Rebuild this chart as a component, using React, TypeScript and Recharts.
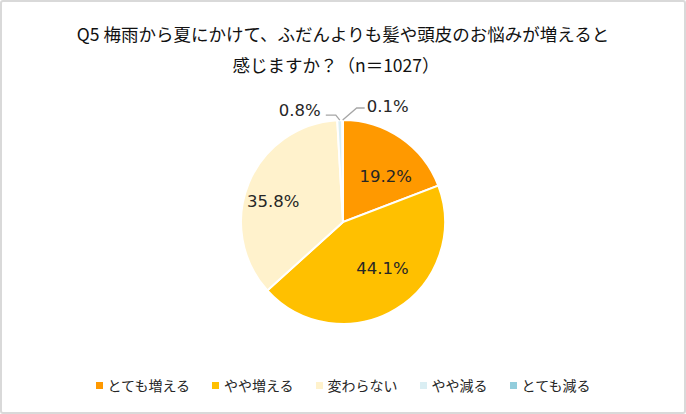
import React from "react";
import { PieChart, Pie, Cell } from "recharts";

const categories = ["とても増える", "やや増える", "変わらない", "やや減る", "とても減る"];
const values = [19.2, 44.1, 35.8, 0.8, 0.1];
const colors = ["#FF9900", "#FFC000", "#FFF2CC", "#DAEEF3", "#92CDDC"];
const titleLines = [
  "Q5 梅雨から夏にかけて、ふだんよりも髪や頭皮のお悩みが増えると",
  "感じますか？（n＝1027）",
];

const data = categories.map((name, i) => ({ name, value: values[i] }));

const FONT = "'Noto Sans CJK JP', 'Noto Sans', sans-serif";
const NUMFONT = "'DejaVu Sans', 'Noto Sans CJK JP', sans-serif";
const RAD = Math.PI / 180;

const renderLabel = (props: any) => {
  const { cx, cy, midAngle, outerRadius, index, value } = props;
  const text = `${value.toFixed(1)}%`;
  if (index < 3) {
    const x = cx + outerRadius * 0.74 * Math.cos(-midAngle * RAD);
    const y = cy + outerRadius * 0.54 * Math.sin(-midAngle * RAD);
    return (
      <text x={x} y={y} textAnchor="middle" dominantBaseline="central" fill="#262626" fontSize={16.5} fontFamily={NUMFONT}>
        {text}
      </text>
    );
  }
  const ex = cx + outerRadius * Math.cos(-midAngle * RAD);
  const ey = cy + outerRadius * Math.sin(-midAngle * RAD);
  if (index === 3) {
    return (
      <g>
        <polyline points={`${ex},${ey} ${ex - 4},${ey - 5} ${ex - 14},${ey - 5}`} fill="none" stroke="#A6A6A6" strokeWidth={1.3} />
        <text x={ex - 19} y={ey - 10} textAnchor="end" dominantBaseline="central" fill="#262626" fontSize={16.5} fontFamily={NUMFONT}>
          {text}
        </text>
      </g>
    );
  }
  return (
    <g>
      <polyline points={`${ex},${ey} ${ex + 14},${ey - 12} ${ex + 22},${ey - 12}`} fill="none" stroke="#A6A6A6" strokeWidth={1.3} />
      <text x={ex + 24} y={ey - 14} textAnchor="start" dominantBaseline="central" fill="#262626" fontSize={16.5} fontFamily={NUMFONT}>
        {text}
      </text>
    </g>
  );
};

export default function App() {
  return (
    <div
      style={{
        position: "absolute",
        left: 0,
        top: 0,
        width: 686,
        height: 414,
        boxSizing: "border-box",
        border: "2px solid #D9D9D9",
        borderRadius: 3,
        background: "#fff",
        fontFamily: FONT,
      }}
    >
      <div
        style={{
          position: "absolute",
          left: 0,
          top: 16,
          width: 682,
          textAlign: "center",
          fontSize: 17.5,
          lineHeight: "31px",
          color: "#111",
        }}
      >
        <div>{titleLines[0]}</div>
        <div style={{ marginLeft: -14 }}>{titleLines[1]}</div>
      </div>
      <div style={{ position: "absolute", left: -2, top: -2 }}>
        <PieChart width={686} height={414} margin={{ top: 0, right: 0, bottom: 0, left: 0 }}>
          <Pie
            data={data}
            dataKey="value"
            nameKey="name"
            cx={343}
            cy={222}
            outerRadius={102}
            startAngle={90}
            endAngle={-270}
            stroke="#FFFFFF"
            strokeWidth={2}
            label={renderLabel}
            labelLine={false}
            isAnimationActive={false}
          >
            {data.map((d, i) => (
              <Cell key={d.name} fill={colors[i]} />
            ))}
          </Pie>
        </PieChart>
      </div>
      <div
        style={{
          position: "absolute",
          left: 0,
          top: 373,
          width: 682,
          display: "flex",
          justifyContent: "center",
          fontSize: 14,
          color: "#262626",
        }}
      >
        {categories.map((c, i) => (
          <div key={c} style={{ display: "flex", alignItems: "center", marginRight: i < categories.length - 1 ? 22 : 0 }}>
            <span style={{ display: "inline-block", width: 7, height: 7, background: colors[i], marginRight: 5 }} />
            <span>{c}</span>
          </div>
        ))}
      </div>
    </div>
  );
}
